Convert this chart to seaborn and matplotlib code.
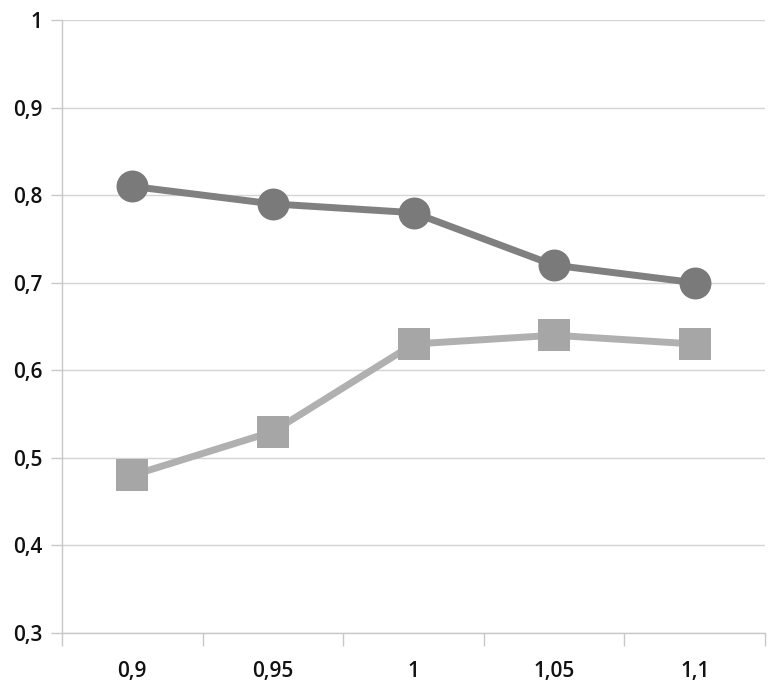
import matplotlib
matplotlib.use("Agg")
import matplotlib.pyplot as plt
import matplotlib.patheffects as pe
import seaborn as sns
import pandas as pd
from matplotlib.ticker import FixedLocator

categories = ["0,9", "0,95", "1", "1,05", "1,1"]
series_circle = [0.81, 0.79, 0.78, 0.72, 0.70]
series_square = [0.48, 0.53, 0.63, 0.64, 0.63]
y_ticks = [0.3, 0.4, 0.5, 0.6, 0.7, 0.8, 0.9, 1.0]
y_labels = ["0,3", "0,4", "0,5", "0,6", "0,7", "0,8", "0,9", "1"]

sns.set_theme(style="white")
plt.rcParams['font.family'] = ['Open Sans', 'DejaVu Sans']

pos = list(range(len(categories)))
df = pd.DataFrame({
    "pos": pos * 2,
    "value": series_circle + series_square,
    "series": ["A"] * len(pos) + ["B"] * len(pos),
})

fig = plt.figure(figsize=(7.74, 6.84), dpi=100)
ax = fig.add_axes([62/774, 1-633/684, (765-62)/774, (633-20)/684])

sns.lineplot(data=df, x="pos", y="value", hue="series", style="series",
             markers={"A": "o", "B": "s"}, dashes=False,
             palette={"A": "#808080", "B": "#b0b0b0"},
             linewidth=5, markersize=23, markeredgewidth=0,
             legend=False, ax=ax, zorder=3)

for line, mc in zip(ax.lines, ["#7a7a7a", "#a6a6a6"]):
    line.set_markerfacecolor(mc)
    line.set_zorder(3)

ax.set_xlim(-0.5, len(categories) - 0.5)
ax.set_ylim(0.3, 1.0)
ax.set_yticks(y_ticks)
ax.set_yticklabels(y_labels)
ax.set_xticks(pos)
ax.set_xticklabels(categories)
ax.xaxis.set_minor_locator(FixedLocator([p - 0.5 for p in pos] + [len(pos) - 0.5]))

ax.grid(axis="y", color="#d4d4d4", linewidth=1.0)
ax.set_axisbelow(True)
ax.set_xlabel("")
ax.set_ylabel("")

for s in ["top", "right"]:
    ax.spines[s].set_visible(False)
for s in ["left", "bottom"]:
    ax.spines[s].set_color("#c8c8c8")
    ax.spines[s].set_linewidth(1.0)

for lbl in ax.get_xticklabels() + ax.get_yticklabels():
    lbl.set_fontweight("semibold")

ax.tick_params(axis="y", which="major", left=True, length=8, width=1.0, color="#c8c8c8",
               labelsize=15, labelcolor="#111111", pad=6)
ax.tick_params(axis="x", which="major", bottom=False, labelsize=15, labelcolor="#111111", pad=14)
ax.tick_params(axis="x", which="minor", bottom=True, length=9, width=1.0, color="#c8c8c8")

fig.savefig("out.png", dpi=100)
